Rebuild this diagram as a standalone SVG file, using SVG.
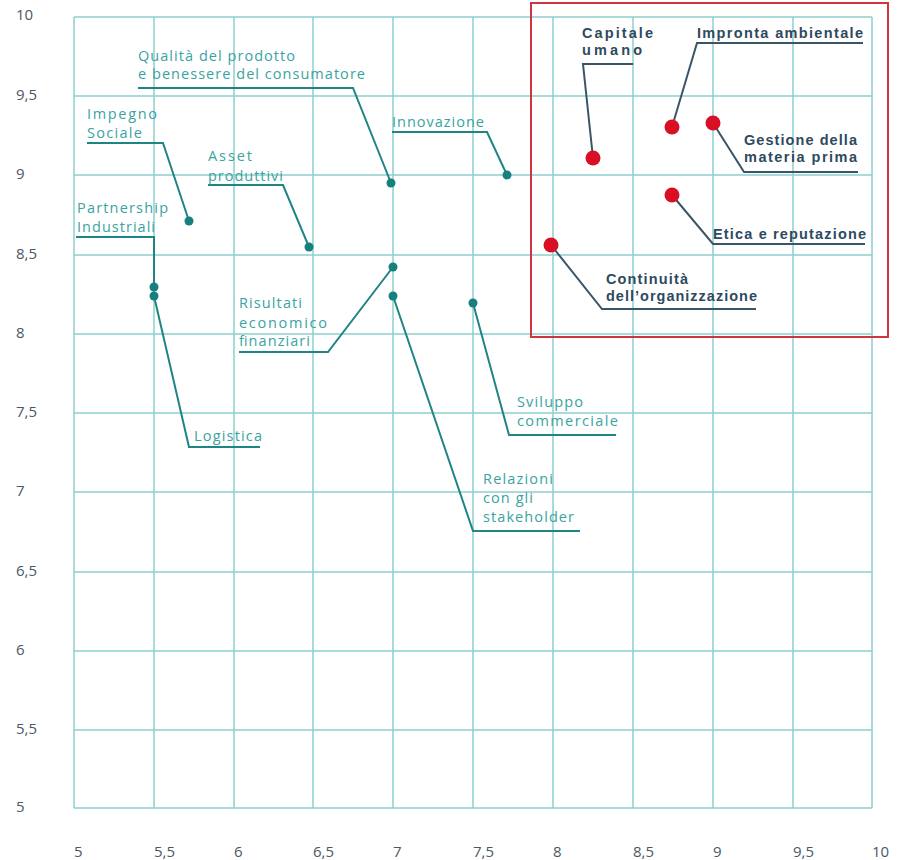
<svg xmlns="http://www.w3.org/2000/svg" width="899" height="860" viewBox="0 0 899 860">
<style>
.grid{stroke:#8fd0cf;stroke-width:1.5;fill:none}
.ax{font-family:"Open Sans","Liberation Sans",sans-serif;font-size:15px;fill:#4a5866}
.tl{font-family:"Open Sans","Liberation Sans",sans-serif;font-size:14.5px;fill:#3aa3a2}
.bl{font-family:"Liberation Sans","Open Sans",sans-serif;font-size:14.5px;font-weight:bold;fill:#2e4a5e}
.tline{stroke:#1f8584;stroke-width:2;fill:none}
.rline{stroke:#3a5566;stroke-width:2;fill:none}
.tdot{fill:#17807f}
.rdot{fill:#d90f25}
</style>
<rect width="899" height="860" fill="#ffffff"/>
<g id="grid">
<path class="grid" d="M74 17V808M154 17V808M234 17V808M313 17V808M393 17V808M473 17V808M553 17V808M633 17V808M713 17V808M793 17V808M872 17V808"/>
<path class="grid" d="M74 17H872M74 96H872M74 175H872M74 255H872M74 334H872M74 413H872M74 492H872M74 572H872M74 651H872M74 730H872M74 808H872"/>
</g>
<g id="y-axis">
<text class="ax" x="16" y="20">10</text>
<text class="ax" x="16" y="100">9,5</text>
<text class="ax" x="16" y="179">9</text>
<text class="ax" x="16" y="259">8,5</text>
<text class="ax" x="16" y="338">8</text>
<text class="ax" x="16" y="417">7,5</text>
<text class="ax" x="16" y="496">7</text>
<text class="ax" x="16" y="576">6,5</text>
<text class="ax" x="16" y="655">6</text>
<text class="ax" x="16" y="734">5,5</text>
<text class="ax" x="16" y="812">5</text>
</g>
<g id="x-axis">
<text class="ax" x="74" y="857">5</text>
<text class="ax" x="154" y="857">5,5</text>
<text class="ax" x="234" y="857">6</text>
<text class="ax" x="313" y="857">6,5</text>
<text class="ax" x="393" y="857">7</text>
<text class="ax" x="473" y="857">7,5</text>
<text class="ax" x="553" y="857">8</text>
<text class="ax" x="633" y="857">8,5</text>
<text class="ax" x="713" y="857">9</text>
<text class="ax" x="793" y="857">9,5</text>
<text class="ax" x="872" y="857">10</text>
</g>
<rect id="highlight" x="531" y="3" width="357" height="334" fill="none" stroke="#d0343f" stroke-width="2"/>
<g id="connectors">
<path class="tline" d="M138 88H353L391 183"/>
<path class="tline" d="M87 143H163L189 221"/>
<path class="tline" d="M208 185H283L309 247"/>
<path class="tline" d="M392 132H487L507 175"/>
<path class="tline" d="M76 237H154V287"/>
<path class="tline" d="M154 296L189 447H260"/>
<path class="tline" d="M239 352H328L393 267"/>
<path class="tline" d="M393 296L473 531H580"/>
<path class="tline" d="M473 303L509 435H616"/>
<path class="rline" d="M633 64H583L593 158"/>
<path class="rline" d="M863 43H697L672 127"/>
<path class="rline" d="M713 123L744 172H858"/>
<path class="rline" d="M672 195L713 244H865"/>
<path class="rline" d="M551 245L602 309H756"/>
</g>
<g id="n-qualita"><circle class="tdot" cx="391" cy="183" r="4.5"/><text class="tl" x="138" y="61" textLength="157">Qualità del prodotto</text><text class="tl" x="138" y="79" textLength="227">e benessere del consumatore</text></g>
<g id="n-impegno"><circle class="tdot" cx="189" cy="221" r="4.5"/><text class="tl" x="87" y="119" textLength="70">Impegno</text><text class="tl" x="87" y="138" textLength="55">Sociale</text></g>
<g id="n-asset"><circle class="tdot" cx="309" cy="247" r="4.5"/><text class="tl" x="208" y="161" textLength="44">Asset</text><text class="tl" x="208" y="181" textLength="75">produttivi</text></g>
<g id="n-innovazione"><circle class="tdot" cx="507" cy="175" r="4.5"/><text class="tl" x="392" y="127" textLength="92">Innovazione</text></g>
<g id="n-partnership"><circle class="tdot" cx="154" cy="287" r="4.5"/><text class="tl" x="77" y="213" textLength="91">Partnership</text><text class="tl" x="77" y="232" textLength="78">Industriali</text></g>
<g id="n-logistica"><circle class="tdot" cx="154" cy="296" r="4.5"/><text class="tl" x="194" y="441" textLength="68">Logistica</text></g>
<g id="n-risultati"><circle class="tdot" cx="393" cy="267" r="4.5"/><text class="tl" x="239" y="308" textLength="63">Risultati</text><text class="tl" x="239" y="328" textLength="88">economico</text><text class="tl" x="239" y="346" textLength="71">finanziari</text></g>
<g id="n-relazioni"><circle class="tdot" cx="393" cy="296" r="4.5"/><text class="tl" x="483" y="484" textLength="70">Relazioni</text><text class="tl" x="483" y="503" textLength="50">con gli</text><text class="tl" x="483" y="522" textLength="91">stakeholder</text></g>
<g id="n-sviluppo"><circle class="tdot" cx="473" cy="303" r="4.5"/><text class="tl" x="517" y="407" textLength="66">Sviluppo</text><text class="tl" x="517" y="426" textLength="101">commerciale</text></g>
<g id="n-capitale"><circle class="rdot" cx="593" cy="158" r="7.5"/><text class="bl" x="582" y="38" textLength="71">Capitale</text><text class="bl" x="582" y="55" textLength="60">umano</text></g>
<g id="n-impronta"><circle class="rdot" cx="672" cy="127" r="7.5"/><text class="bl" x="697" y="38" textLength="166">Impronta ambientale</text></g>
<g id="n-gestione"><circle class="rdot" cx="713" cy="123" r="7.5"/><text class="bl" x="744" y="145" textLength="113">Gestione della</text><text class="bl" x="744" y="162" textLength="113">materia prima</text></g>
<g id="n-etica"><circle class="rdot" cx="672" cy="195" r="7.5"/><text class="bl" x="713" y="239" textLength="153">Etica e reputazione</text></g>
<g id="n-continuita"><circle class="rdot" cx="551" cy="245" r="7.5"/><text class="bl" x="606" y="284" textLength="82">Continuità</text><text class="bl" x="606" y="301" textLength="151">dell’organizzazione</text></g>
</svg>
